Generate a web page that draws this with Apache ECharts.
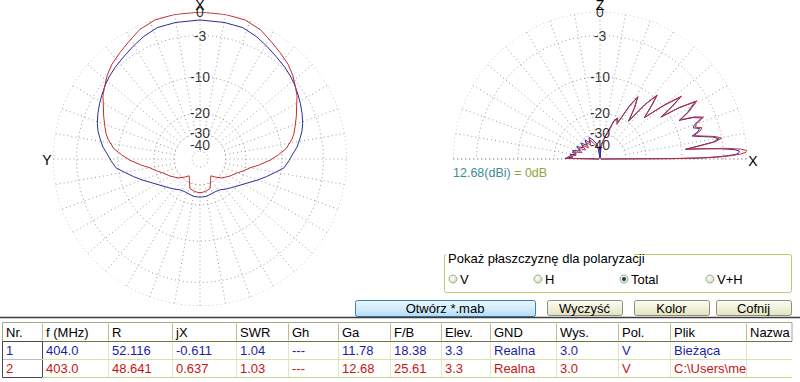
<!DOCTYPE html>
<html><head><meta charset="utf-8">
<script src="https://cdn.jsdelivr.net/npm/echarts/dist/echarts.min.js"></script>
<style>html,body{margin:0;padding:0;background:#fff}#c{width:800px;height:382px}</style>
</head><body><div id="c"></div>
<script>
// ---------------- data ----------------
const ringTickDb = [0, -3, -10, -20, -30, -40];
const ringTickLabels = ['0', '-3', '-10', '-20', '-30', '-40'];
const gridRingDb = [0, -3, -10, -20, -30, -50];

// horizontal (azimuth) pattern, dB relative to 12.68 dBi, angle clockwise from X
const azAngles = [0,10,18,25,31,37,43,48,52,57,61,66,71,75,78,83,87,91,96,100,105,110,120,131,140,147,154,161,166,171,176,180,
  184,189,194,199,206,213,220,229,240,250,255,260,264,269,273,277,282,285,289,294,299,303,308,312,317,323,329,335,342,350,360];
const azRed = [0,-0.03,-0.1,-0.5,-1.15,-1.7,-2.2,-2.8,-3.4,-4.1,-4.9,-5.7,-6.5,-7.1,-7.7,-9.0,-10.8,-12.7,-15.7,-18.2,-20.2,-22.3,-25.0,-27.9,-31.4,-34.2,-31.1,-26.7,-26.2,-25.7,-25.4,-25.3,
  -25.4,-25.7,-26.2,-26.7,-31.1,-34.2,-31.4,-27.9,-25.0,-22.3,-20.2,-18.2,-15.7,-12.7,-10.8,-9.0,-7.7,-7.1,-6.5,-5.7,-4.9,-4.1,-3.4,-2.8,-2.2,-1.7,-1.15,-0.5,-0.1,-0.03,0];
const azBlue = [-0.96,-1.0,-1.06,-1.5,-2.0,-2.45,-2.8,-3.15,-3.45,-3.9,-4.25,-4.7,-5.2,-5.7,-6.2,-7.0,-7.9,-8.6,-9.5,-11.2,-13.1,-15.0,-18.4,-21.0,-22.6,-23.8,-24.1,-23.9,-23.6,-23.3,-23.2,-23.2,
  -23.2,-23.3,-23.6,-23.9,-24.1,-23.8,-22.6,-21.0,-18.4,-15.0,-13.1,-11.2,-9.5,-8.6,-7.9,-7.0,-6.2,-5.7,-5.2,-4.7,-4.25,-3.9,-3.45,-3.15,-2.8,-2.45,-2.0,-1.5,-1.06,-1.0,-0.96];

// vertical (elevation) pattern, angle from +X counter-clockwise
const elAnglesRed = [0,0.3,0.6,1,1.5,2,2.6,3.3,4,4.8,5.6,6.5,7.5,8.5,9.7,11,12.5,14,15.5,17,18.5,20,22,24,26,28,31,33,34.5,36,37.6,40,43,46,48.2,50.5,53,56,58.7,61,64,67,70,73,76,80,85,90,100,110,118,124,130,136,142,148,154,160,166,171,176,179,180];
const elRed = [-90,-12,-6,-3.5,-1.8,-0.8,-0.1,0,-0.7,-2.5,-5.5,-9,-6.5,-4,-3,-3.8,-5.6,-7.2,-6,-5.5,-6.5,-6.2,-4.7,-6,-8.5,-6.5,-4.5,-7.5,-11.5,-8.5,-6.1,-9.5,-15,-11.5,-9.2,-12.5,-19,-15,-12.3,-15.5,-23,-21,-22.5,-28,-31,-36,-42,-45,-44,-38,-33,-37,-33,-38,-32,-37,-31,-35,-28,-31,-26,-25.6,-90];
const elAnglesBlue = [0,0.3,0.6,1,1.5,2,2.6,3.3,4,4.8,5.6,6.5,7.5,8.5,9.7,11,12.5,14,15.5,17,18.5,20,22,24,26,28,31,33,34.5,36,37.6,40,43,46,48.2,50.5,53,56,58.7,61,64,67,70,73,76,80,85,88,90,92,100,110,117,122,128,134,140,146,152,158,163,168,172,176,179,180];
const elBlue = [-90,-12.5,-6.5,-4,-2.3,-1.3,-0.95,-0.9,-1.5,-3.2,-6,-9.2,-6.8,-4.3,-3.4,-4.2,-6,-7.5,-6.4,-5.9,-6.9,-6.5,-5,-6.3,-8.8,-6.8,-4.8,-7.8,-11.8,-8.8,-6.4,-9.8,-15.2,-11.8,-9.4,-12.7,-19.5,-14.8,-12,-15.2,-22,-20.5,-22,-27,-30,-35,-40,-90,-42,-90,-40,-34,-31,-35,-31,-35,-30.5,-34,-29.5,-33,-28,-31,-27,-29,-24.6,-90];

const gainText = '12.68(dBi)';
const gainRef = '= 0dB';

const polOptions = ['V', 'H', 'Total', 'V+H'];
const polSelected = 'Total';
const polTitle = 'Pokaż płaszczyznę dla polaryzacji';
const buttonLabels = ['Otwórz *.mab', 'Wyczyść', 'Kolor', 'Cofnij'];

const tableHeader = ['Nr.', 'f (MHz)', 'R', 'jX', 'SWR', 'Gh', 'Ga', 'F/B', 'Elev.', 'GND', 'Wys.', 'Pol.', 'Plik', 'Nazwa'];
const row1 = ['1', '404.0', '52.116', '-0.611', '1.04', '---', '11.78', '18.38', '3.3', 'Realna', '3.0', 'V', 'Bieżąca', ''];
const row2 = ['2', '403.0', '48.641', '0.637', '1.03', '---', '12.68', '25.61', '3.3', 'Realna', '3.0', 'V', 'C:\\Users\\met', ''];

// ---------------- layout / style ----------------
const FONT = 'Arial, "Liberation Sans", sans-serif';
const RED = '#c42c34', BLUE = '#2c2c9c', GRID = '#9a9a9a';
const toR = db => Math.pow(0.89, -db / 2);   // ARRL log scale

function ringData(dbs, a0, a1) {
  const d = [];
  dbs.forEach(db => { for (let a = a0; a <= a1; a += 2) d.push([toR(db), a]); d.push(['-', '-']); });
  return d;
}
function spokeData(a0, a1, extraBase) {
  const d = [];
  for (let a = a0; a <= a1; a += 10) { d.push([toR(-30), a], [toR(0), a], ['-', '-']); }
  if (extraBase) d.push([1, 180], [0, 0], [1, 0]);
  return d;
}
const pair = (angles, vals) => vals.map((v, i) => [toR(v), angles[i]]);
const gridStyle = { color: GRID, width: 1, type: [1, 3] };

const series = [
  { type: 'line', coordinateSystem: 'polar', polarIndex: 0, data: ringData(gridRingDb, 0, 360), showSymbol: false, silent: true, lineStyle: gridStyle, z: 1 },
  { type: 'line', coordinateSystem: 'polar', polarIndex: 0, data: spokeData(0, 350, false), showSymbol: false, silent: true, lineStyle: gridStyle, z: 1 },
  { type: 'line', coordinateSystem: 'polar', polarIndex: 1, data: ringData(gridRingDb, 0, 180), showSymbol: false, silent: true, lineStyle: gridStyle, z: 1 },
  { type: 'line', coordinateSystem: 'polar', polarIndex: 1, data: spokeData(0, 180, true), showSymbol: false, silent: true, lineStyle: gridStyle, z: 1 },
  { type: 'line', coordinateSystem: 'polar', polarIndex: 0, data: pair(azAngles, azBlue), showSymbol: false, silent: true, lineStyle: { color: BLUE, width: 1 }, z: 3 },
  { type: 'line', coordinateSystem: 'polar', polarIndex: 0, data: pair(azAngles, azRed), showSymbol: false, silent: true, lineStyle: { color: RED, width: 1 }, z: 4 },
  { type: 'line', coordinateSystem: 'polar', polarIndex: 1, data: pair(elAnglesBlue, elBlue), showSymbol: false, silent: true, lineStyle: { color: BLUE, width: 1 }, z: 3 },
  { type: 'line', coordinateSystem: 'polar', polarIndex: 1, data: pair(elAnglesRed, elRed), showSymbol: false, silent: true, lineStyle: { color: RED, width: 1 }, z: 4 },
];
[[0, 0], [1, 90]].forEach(([pi, ang]) => {
  series.push({
    type: 'scatter', coordinateSystem: 'polar', polarIndex: pi, silent: true, z: 6,
    symbolSize: 1, itemStyle: { color: 'rgba(0,0,0,0)' },
    data: ringTickDb.map(db => [toR(db), ang]),
    label: { show: true, position: 'inside', formatter: p => ringTickLabels[p.dataIndex],
      color: '#000', fontSize: 14, lineHeight: 11, fontFamily: FONT }
  });
});

// ---------------- graphic (texts, controls, table) ----------------
const G = [];
function text(x, y, s, opt = {}) {
  G.push({ type: 'text', x, y, silent: true, z: opt.z || 20,
    style: Object.assign({ text: s, fill: opt.color || '#000', fontSize: opt.size || 13, fontFamily: FONT,
      align: opt.align || 'left', verticalAlign: 'middle' }, opt.style || {}) });
}
function line(x1, y1, x2, y2, color, w = 1, z = 15) {
  G.push({ type: 'line', silent: true, z, shape: { x1, y1, x2, y2 }, style: { stroke: color, lineWidth: w } });
}
function rect(x, y, w, h, fill, stroke, r = 0, z = 12) {
  G.push({ type: 'rect', silent: true, z, shape: { x, y, width: w, height: h, r }, style: { fill, stroke, lineWidth: 1 } });
}

// axis direction labels
text(200, 5, 'X', { size: 14, align: 'center', style: { lineHeight: 10 } });
text(47, 160, 'Y', { size: 14, align: 'center' });
text(600, 5, 'Z', { size: 14, align: 'center', style: { lineHeight: 10 } });
text(753, 161, 'X', { size: 14, align: 'center' });
G.push({ type: 'text', x: 453, y: 173, silent: true, z: 20,
  style: { text: '{a|' + gainText + '} {b|' + gainRef + '}', fontSize: 12.5, fontFamily: FONT, verticalAlign: 'middle',
    rich: { a: { fill: '#3f8a94', fontSize: 12.5, fontFamily: FONT }, b: { fill: '#93a23e', fontSize: 12.5, fontFamily: FONT } } } });

// polarisation group box
rect(444.5, 254.5, 347, 38, 'none', '#b9cd6e', 2, 12);
rect(446, 250, 188, 8, '#fff', 'none', 0, 13);
text(448, 258, polTitle);
const radioX = [453, 538, 624, 710];
polOptions.forEach((p, i) => {
  G.push({ type: 'circle', silent: true, z: 14, shape: { cx: radioX[i], cy: 279, r: 4 },
    style: { fill: new echarts.graphic.RadialGradient(0.4, 0.4, 0.7, [{ offset: 0, color: '#ffffff' }, { offset: 1, color: '#c9d8b4' }]), stroke: '#9fb08a', lineWidth: 1 } });
  if (p === polSelected) G.push({ type: 'circle', silent: true, z: 15, shape: { cx: radioX[i], cy: 279, r: 2 }, style: { fill: '#1f3a66' } });
  text(radioX[i] + 7, 279, p, { size: 13 });
});

// buttons
const btnBox = [[355, 300, 180, 16], [547, 300, 75, 15], [634, 300, 75, 15], [716, 300, 75, 15]];
buttonLabels.forEach((b, i) => {
  const [x, y, w, h] = btnBox[i];
  const fill = i === 0
    ? new echarts.graphic.LinearGradient(0, 0, 0, 1, [{ offset: 0, color: '#eaf6fd' }, { offset: 0.5, color: '#d4ecfb' }, { offset: 1, color: '#b2dcf6' }])
    : new echarts.graphic.LinearGradient(0, 0, 0, 1, [{ offset: 0, color: '#fbfbf2' }, { offset: 0.5, color: '#f1f1dc' }, { offset: 1, color: '#e2e2c0' }]);
  rect(x + 0.5, y + 0.5, w, h, fill, i === 0 ? '#3c7fb1' : '#8f8f78', 2, 12);
  text(x + w / 2, y + h / 2 + 0.5, b, { align: 'center' });
});

// separator
line(0, 317.5, 800, 317.5, '#3c3c3c', 1.5);

// table
const colX = [2, 42, 108, 172, 236, 288, 338, 390, 441, 490, 556, 618, 670, 746, 792];
const yHead = 322.5, yR1 = 341.5, yR2 = 359.5, yEnd = 377.5;
rect(2.5, yHead, 789.5, yR1 - yHead, '#fff', '#a4a884', 0, 11);
for (let i = 1; i < colX.length - 1; i++) line(colX[i] + 0.5, yHead + 1, colX[i] + 0.5, yR1 - 1, '#b8bb98');
line(2, yR1, 792, yR1, '#6e7344');
rect(746, 342, 46, 35, '#fff', 'none', 0, 21);
for (let i = 2; i < colX.length - 1; i++) line(colX[i] + 0.5, yR1 + 1, colX[i] + 0.5, yEnd, '#e2e6c4', 1, 22);
line(42, yR2, 792, yR2, '#dbe3a6', 1, 22);
line(42, yEnd, 792, yEnd, '#c9d58d', 1, 22);
rect(2.5, yR1, 40, yEnd - yR1, 'none', '#4a4a4a', 0, 16);
line(3, yR2, 42, yR2, '#bdbdbd');
tableHeader.forEach((h, i) => text(colX[i] + 4, 332, h));
[[row1, '#1d1da6'], [row2, '#c81414']].forEach(([row, col], r) => {
  row.forEach((v, i) => {
    if (!v) return;
    text(colX[i] + 4, r === 0 ? 350.5 : 368.5, v, { color: col });
  });
});

// ---------------- chart ----------------
const chart = echarts.init(document.getElementById('c'), null, { renderer: 'svg', width: 800, height: 382 });
chart.setOption({
  animation: false,
  backgroundColor: '#fff',
  polar: [{ center: [200, 159], radius: 147 }, { center: [600, 159], radius: 147 }],
  angleAxis: [
    { polarIndex: 0, type: 'value', min: 0, max: 360, startAngle: 90, clockwise: true, show: false },
    { polarIndex: 1, type: 'value', min: 0, max: 360, startAngle: 0, clockwise: false, show: false }
  ],
  radiusAxis: [
    { polarIndex: 0, type: 'value', min: 0, max: 1, show: false },
    { polarIndex: 1, type: 'value', min: 0, max: 1, show: false }
  ],
  series,
  graphic: G
});
</script></body></html>
